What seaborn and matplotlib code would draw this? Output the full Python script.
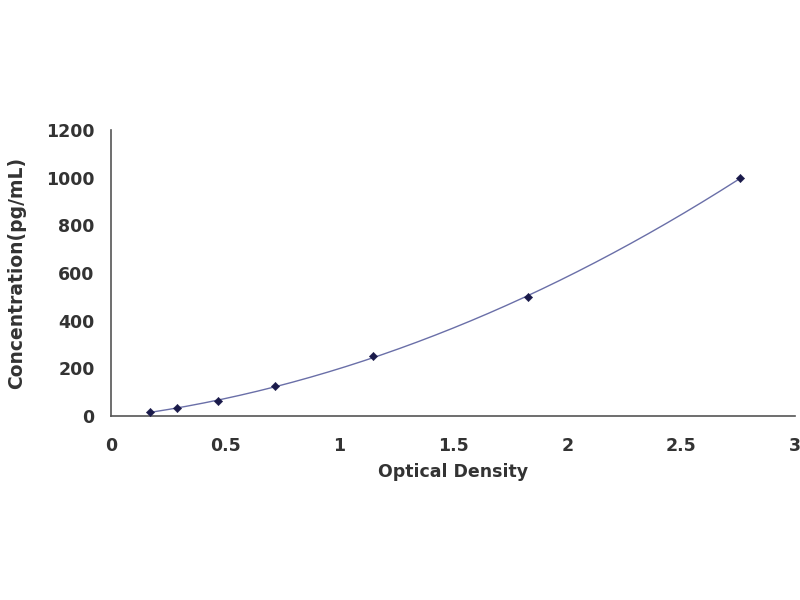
import numpy as np
import pandas as pd
import matplotlib
matplotlib.use("Agg")
import matplotlib.pyplot as plt
import seaborn as sns

# Standard curve readings
optical_density = [0.172, 0.29, 0.467, 0.718, 1.15, 1.83, 2.76]
concentration = [15.6, 31.2, 62.5, 125, 250, 500, 1000]

x_ticks = [0, 0.5, 1, 1.5, 2, 2.5, 3]
x_tick_labels = ["0", "0.5", "1", "1.5", "2", "2.5", "3"]
y_ticks = [0, 200, 400, 600, 800, 1000, 1200]

sns.set_style("white")
plt.rcParams["font.family"] = ["DejaVu Sans"]

df = pd.DataFrame({"od": optical_density, "conc": concentration})

# smooth fitted curve through the standards
coef = np.polyfit(df["od"], df["conc"], 2)
xs = np.linspace(df["od"].min(), df["od"].max(), 200)
fit = pd.DataFrame({"od": xs, "conc": np.polyval(coef, xs)})

fig = plt.figure(figsize=(8, 6), dpi=100)
ax = fig.add_axes([0.139, 0.307, 0.855, 0.476])

sns.lineplot(data=fit, x="od", y="conc", ax=ax, color="#6a6fa8", linewidth=1.0)
sns.scatterplot(data=df, x="od", y="conc", ax=ax, marker="D", s=18,
                color="#1a1a4a", edgecolor="#1a1a4a", zorder=3)

ax.set_xlim(0, 3)
ax.set_ylim(0, 1200)
ax.set_xticks(x_ticks)
ax.set_xticklabels(x_tick_labels)
ax.set_yticks(y_ticks)

for s in ["top", "right"]:
    ax.spines[s].set_visible(False)
for s in ["left", "bottom"]:
    ax.spines[s].set_color("#555555")
    ax.spines[s].set_linewidth(1.2)

ax.tick_params(axis="both", direction="in", length=4, width=1, color="#555555",
               labelsize=12.5, labelcolor="#333333")
ax.tick_params(axis="x", pad=15)
ax.tick_params(axis="y", pad=12)
for lbl in ax.get_xticklabels() + ax.get_yticklabels():
    lbl.set_fontweight("bold")

ax.set_xlabel("Optical Density", fontsize=12.5, fontweight="bold", color="#333333", labelpad=6)
ax.set_ylabel("Concentration(pg/mL)", fontsize=13.5, fontweight="bold", color="#333333", labelpad=14)

fig.savefig("out.png", dpi=100)
